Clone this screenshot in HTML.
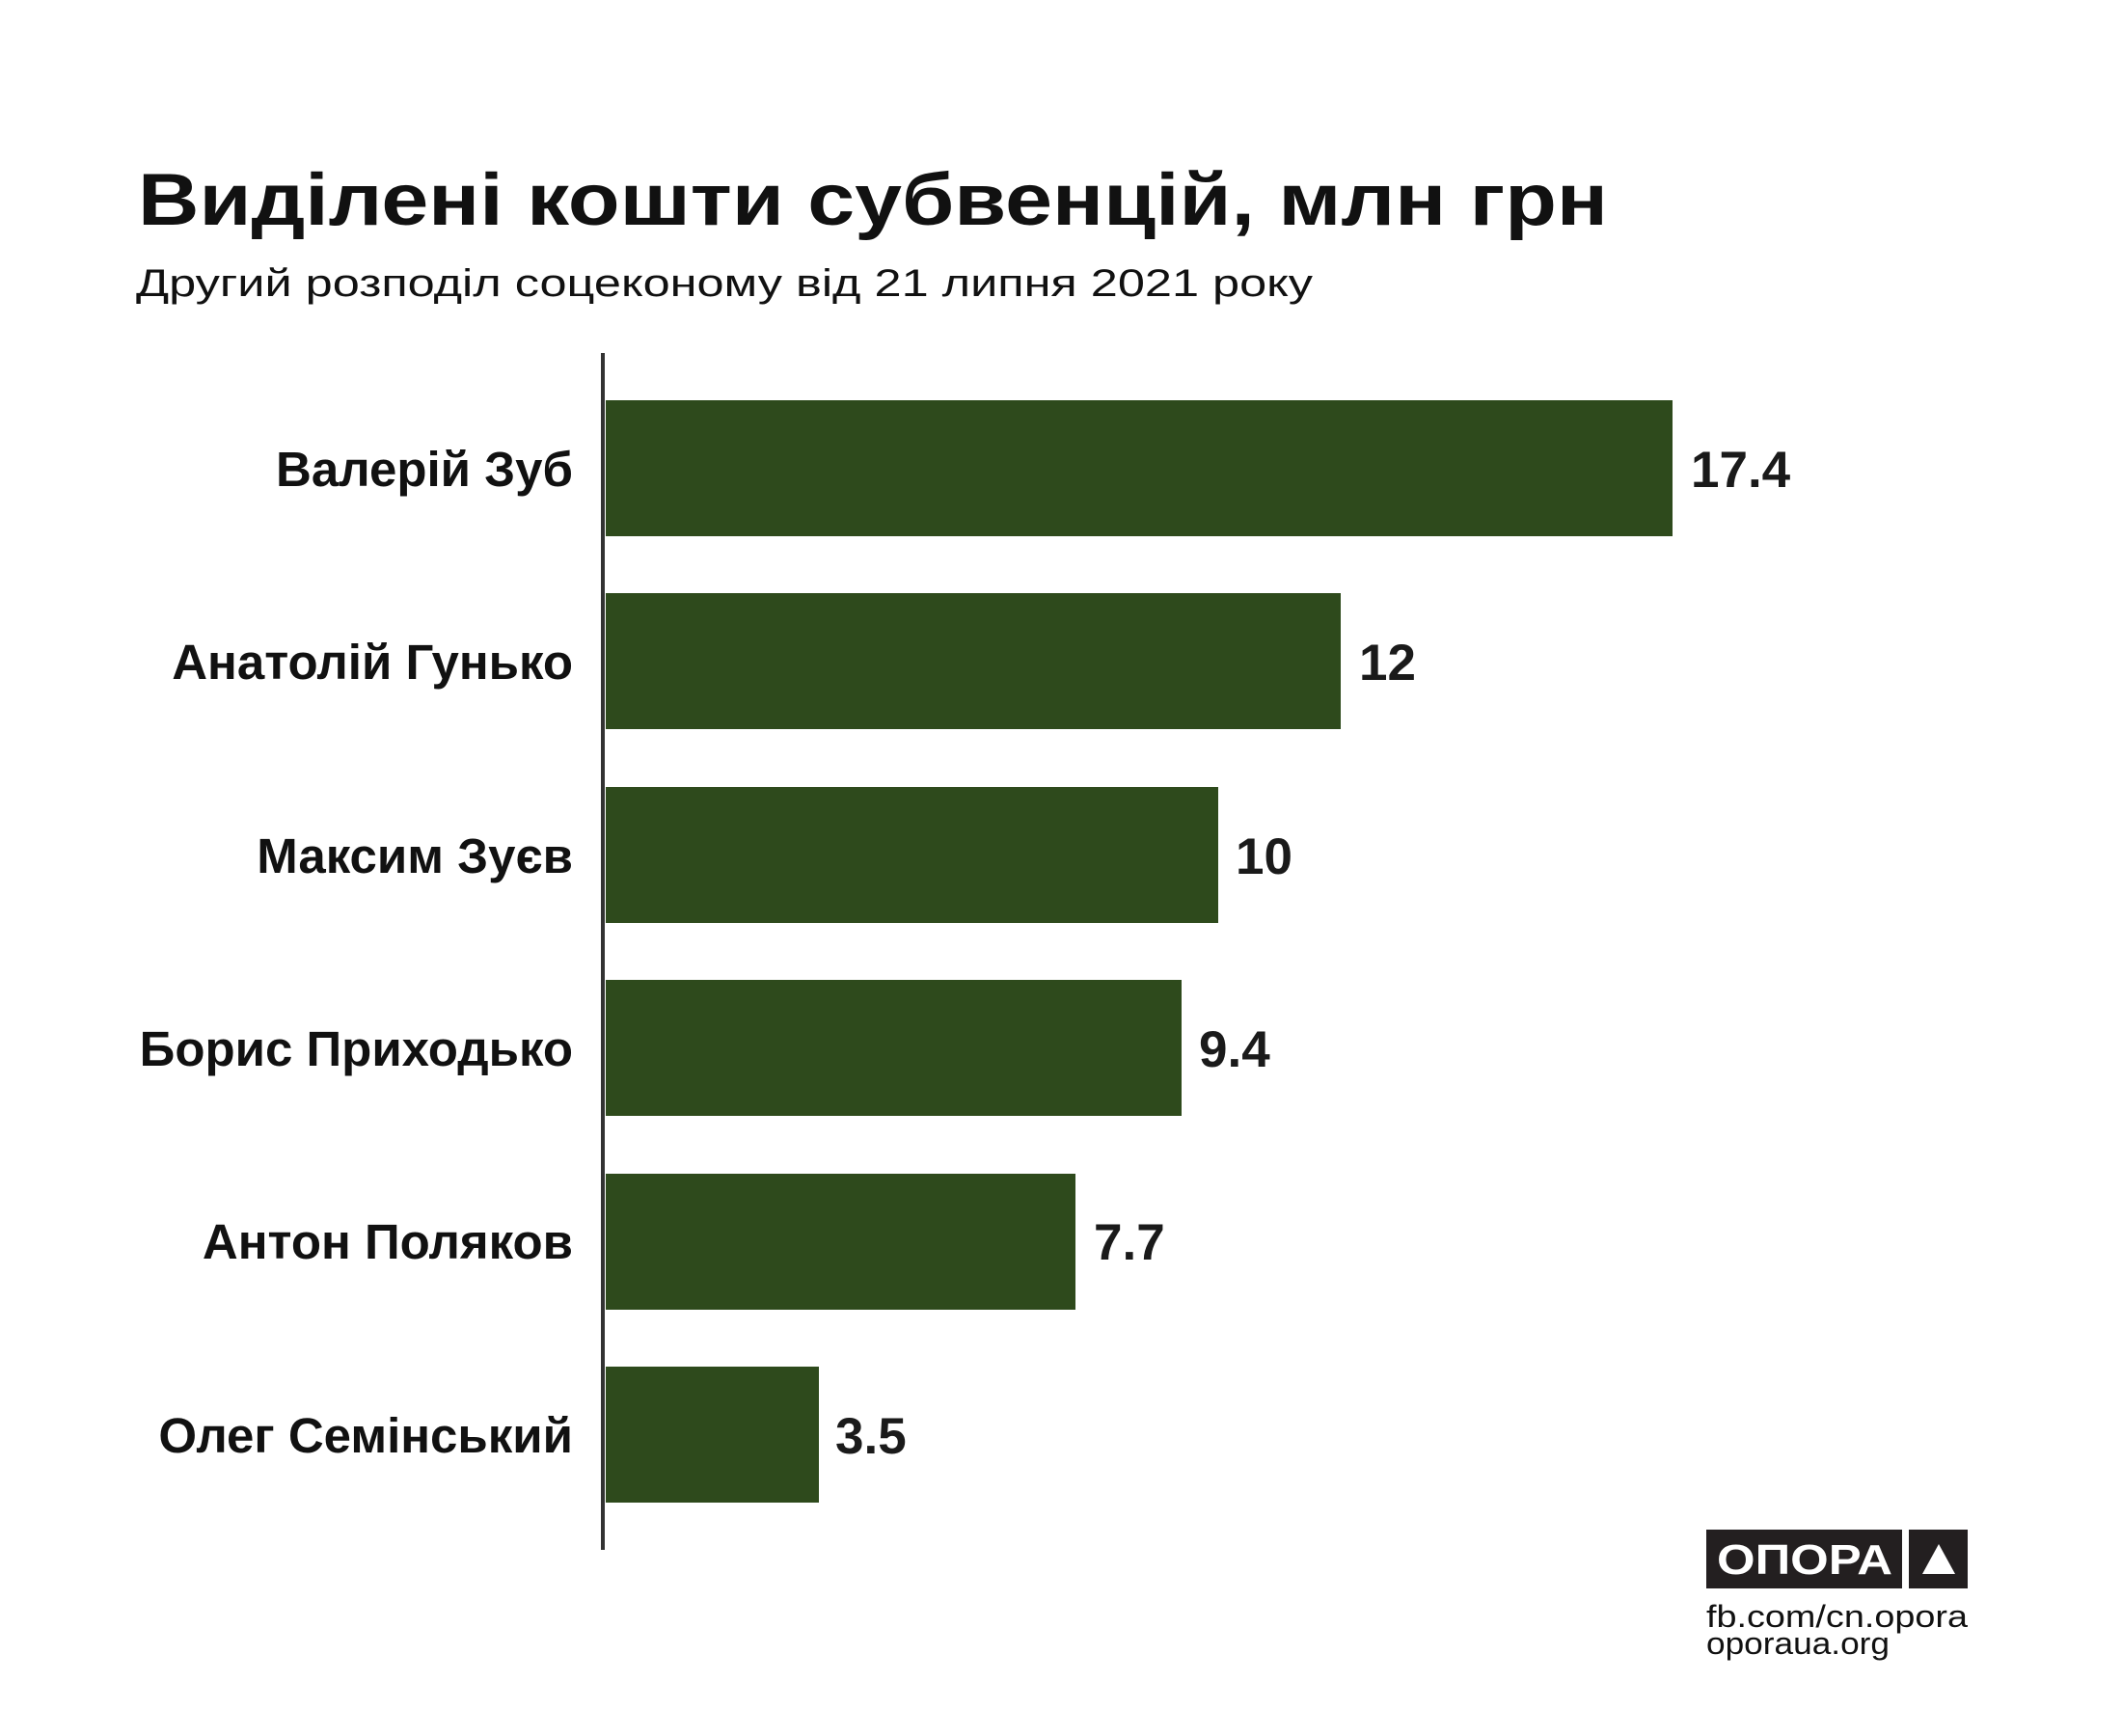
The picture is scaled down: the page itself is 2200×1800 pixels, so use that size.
<!DOCTYPE html>
<html><head><meta charset="utf-8"><style>
html,body{margin:0;padding:0;background:#fff;}
svg{display:block;}
</style></head><body>
<svg width="2200" height="1800" viewBox="0 0 2200 1800" xmlns="http://www.w3.org/2000/svg" font-family="'Liberation Sans', 'DejaVu Sans', sans-serif">
<rect width="2200" height="1800" fill="#fff"/>
<text x="143" y="233" font-size="76" font-weight="bold" fill="#111" textLength="1524" lengthAdjust="spacingAndGlyphs">Виділені кошти субвенцій, млн грн</text>
<text x="141" y="307" font-size="40" fill="#111" textLength="1220" lengthAdjust="spacingAndGlyphs">Другий розподіл соцеконому від 21 липня 2021 року</text>
<g fill="#2e4a1c">
<rect x="628" y="415" width="1106" height="141"/>
<rect x="628" y="615" width="762" height="141"/>
<rect x="628" y="816" width="635" height="141"/>
<rect x="628" y="1016" width="597" height="141"/>
<rect x="628" y="1217" width="487" height="141"/>
<rect x="628" y="1417" width="221" height="141"/>
</g>
<line x1="625" y1="366" x2="625" y2="1607" stroke="#333" stroke-width="4"/>
<g font-size="51" font-weight="bold" fill="#111" text-anchor="end">
<text x="594" y="504">Валерій Зуб</text>
<text x="594" y="704">Анатолій Гунько</text>
<text x="594" y="905">Максим Зуєв</text>
<text x="594" y="1105">Борис Приходько</text>
<text x="594" y="1305">Антон Поляков</text>
<text x="594" y="1506">Олег Семінський</text>
</g>
<g font-size="53" font-weight="bold" fill="#1a1a1a">
<text x="1753" y="505">17.4</text>
<text x="1409" y="705">12</text>
<text x="1281" y="906">10</text>
<text x="1243" y="1106">9.4</text>
<text x="1134" y="1306">7.7</text>
<text x="866" y="1507">3.5</text>
</g>
<rect x="1769" y="1586" width="203" height="61" fill="#231f20"/>
<rect x="1979" y="1586" width="61" height="61" fill="#231f20"/>
<polygon points="2010,1601 2027,1632 1993,1632" fill="#fff"/>
<text x="1780" y="1632" font-size="44" font-weight="bold" fill="#fff" textLength="182" lengthAdjust="spacingAndGlyphs">ОПОРА</text>
<text x="1769" y="1687" font-size="32" fill="#111" textLength="271" lengthAdjust="spacingAndGlyphs">fb.com/cn.opora</text>
<text x="1769" y="1715" font-size="32" fill="#111" textLength="190" lengthAdjust="spacingAndGlyphs">oporaua.org</text>
</svg>
</body></html>
